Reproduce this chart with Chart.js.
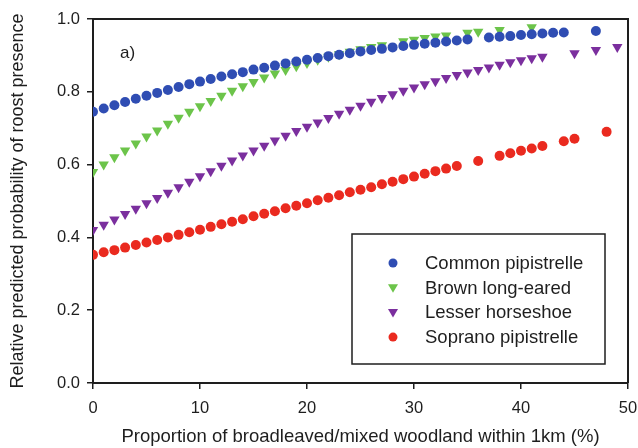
<!DOCTYPE html>
<html>
<head>
<meta charset="utf-8">
<script src="https://cdn.jsdelivr.net/npm/chart.js@4.4.1/dist/chart.umd.min.js"></script>
<style>
    html, body { margin: 0; padding: 0; background: #fff; }
    #wrap { width: 638px; height: 448px; }
</style>
</head>
<body>
<div id="wrap"><canvas id="roostChart" width="638" height="448"></canvas></div>
<script>
// woodland % (x) and predicted probability (y) per species
const commonX = [0,1,2,3,4,5,6,7,8,9,10,11,12,13,14,15,16,17,18,19,20,21,22,23,24,25,26,27,28,29,30,31,32,33,34,35,37,38,39,40,41,42,43,44,47];
const commonY = [0.745,0.754,0.763,0.772,0.781,0.789,0.797,0.805,0.813,0.821,0.828,0.835,0.842,0.848,0.854,0.861,0.866,0.872,0.878,0.883,0.888,0.893,0.898,0.902,0.906,0.911,0.915,0.918,0.922,0.926,0.929,0.932,0.935,0.938,0.941,0.944,0.949,0.951,0.953,0.956,0.958,0.960,0.962,0.963,0.967];

const brownX = [0,1,2,3,4,5,6,7,8,9,10,11,12,13,14,15,16,17,18,19,20,21,22,23,24,25,26,27,29,30,31,32,33,35,36,38,41];
const brownY = [0.580,0.600,0.620,0.639,0.658,0.677,0.694,0.712,0.729,0.745,0.760,0.775,0.789,0.803,0.815,0.827,0.839,0.850,0.860,0.870,0.879,0.888,0.896,0.903,0.910,0.917,0.923,0.928,0.939,0.943,0.948,0.952,0.955,0.962,0.965,0.970,0.977];

const lesserX = [0,1,2,3,4,5,6,7,8,9,10,11,12,13,14,15,16,17,18,19,20,21,22,23,24,25,26,27,28,29,30,31,32,33,34,35,36,37,38,39,40,41,42,45,47,49];
const lesserY = [0.420,0.435,0.449,0.464,0.479,0.494,0.508,0.523,0.538,0.553,0.568,0.582,0.597,0.611,0.625,0.639,0.652,0.666,0.679,0.692,0.704,0.716,0.728,0.740,0.751,0.762,0.773,0.783,0.793,0.803,0.812,0.821,0.829,0.838,0.846,0.853,0.860,0.867,0.874,0.881,0.887,0.892,0.896,0.906,0.915,0.923];

const sopranoX = [0,1,2,3,4,5,6,7,8,9,10,11,12,13,14,15,16,17,18,19,20,21,22,23,24,25,26,27,28,29,30,31,32,33,34,36,38,39,40,41,42,44,45,48];
const sopranoY = [0.352,0.359,0.365,0.372,0.379,0.386,0.393,0.400,0.407,0.414,0.421,0.429,0.436,0.443,0.450,0.458,0.465,0.472,0.480,0.487,0.494,0.502,0.509,0.516,0.524,0.531,0.538,0.546,0.553,0.560,0.567,0.575,0.582,0.589,0.596,0.610,0.624,0.631,0.638,0.644,0.651,0.664,0.671,0.690];

const species = ['Common pipistrelle', 'Brown long-eared', 'Lesser horseshoe', 'Soprano pipistrelle'];
const xTicks = [0, 10, 20, 30, 40, 50];
const yTicks = [0.0, 0.2, 0.4, 0.6, 0.8, 1.0];

const INK = '#1e1e1e';
const FONT = '"Liberation Sans", Arial, sans-serif';

const pts = (xs, ys) => xs.map((x, i) => ({ x: x, y: ys[i] }));

const series = [
    { label: species[0], data: pts(commonX, commonY), color: '#2f4db3', style: 'circle', rot: 0, r: 5 },
    { label: species[1], data: pts(brownX, brownY), color: '#6cc44a', style: 'triangle', rot: 180, r: 6 },
    { label: species[2], data: pts(lesserX, lesserY), color: '#7b2f9e', style: 'triangle', rot: 180, r: 6 },
    { label: species[3], data: pts(sopranoX, sopranoY), color: '#ea2a1f', style: 'circle', rot: 0, r: 5 }
];

// box round the plot, the "a)" panel tag and the framed legend
const decor = {
    id: 'decor',
    afterDraw(chart) {
        const ctx = chart.ctx;
        const a = chart.chartArea;
        ctx.save();
        ctx.strokeStyle = INK;
        ctx.lineWidth = 2;
        ctx.beginPath();
        ctx.moveTo(a.left, a.top);
        ctx.lineTo(a.right, a.top);
        ctx.lineTo(a.right, a.bottom);
        ctx.stroke();

        ctx.fillStyle = INK;
        ctx.font = '17px ' + FONT;
        ctx.textBaseline = 'middle';
        ctx.fillText('a)', 120, 53);

        // legend
        ctx.lineWidth = 1.5;
        ctx.strokeRect(352, 234, 253, 130);
        ctx.font = '18.5px ' + FONT;
        series.forEach((s, i) => {
            const y = 263 + i * 24.7;
            ctx.fillStyle = s.color;
            ctx.beginPath();
            if (s.style === 'circle') {
                ctx.arc(393, y, 4.5, 0, Math.PI * 2);
            } else {
                ctx.moveTo(388, y - 3.5);
                ctx.lineTo(398, y - 3.5);
                ctx.lineTo(393, y + 5);
                ctx.closePath();
            }
            ctx.fill();
            ctx.fillStyle = INK;
            ctx.fillText(s.label, 425, y + 1);
        });
        ctx.restore();
    }
};

new Chart(document.getElementById('roostChart'), {
    type: 'scatter',
    data: {
        datasets: series.map(s => ({
            label: s.label,
            data: s.data,
            pointStyle: s.style,
            rotation: s.rot,
            pointRadius: s.r,
            pointHoverRadius: s.r,
            backgroundColor: s.color,
            borderColor: s.color,
            borderWidth: 0
        }))
    },
    options: {
        responsive: false,
        animation: false,
        layout: { padding: { top: 19, right: 10, left: 0, bottom: 0 } },
        plugins: { legend: { display: false }, tooltip: { enabled: false } },
        scales: {
            x: {
                type: 'linear',
                min: 0, max: 50,
                afterBuildTicks: s => { s.ticks = xTicks.map(v => ({ value: v })); },
                afterFit: s => { s.height = 65; s.paddingLeft = 0; s.paddingRight = 0; },
                ticks: { color: INK, font: { family: FONT, size: 16.5 }, padding: 10, maxRotation: 0 },
                grid: { drawOnChartArea: false, tickLength: 6, color: INK, lineWidth: 1.5 },
                border: { color: INK, width: 2 },
                title: {
                    display: true,
                    text: 'Proportion of broadleaved/mixed woodland within 1km (%)',
                    color: INK,
                    font: { family: FONT, size: 18.5 },
                    padding: { top: 0, bottom: 0 }
                }
            },
            y: {
                type: 'linear',
                min: 0, max: 1,
                afterBuildTicks: s => { s.ticks = yTicks.map(v => ({ value: v })); },
                afterFit: s => { s.width = 93; s.paddingTop = 0; s.paddingBottom = 0; },
                ticks: { color: INK, font: { family: FONT, size: 16.5 }, padding: 7, callback: v => v.toFixed(1) },
                grid: { drawOnChartArea: false, tickLength: 6, color: INK, lineWidth: 1.5 },
                border: { color: INK, width: 2 },
                title: {
                    display: true,
                    text: 'Relative predicted probability of roost presence',
                    color: INK,
                    font: { family: FONT, size: 18 },
                    padding: { top: 7, bottom: 0 }
                }
            }
        }
    },
    plugins: [decor]
});
</script>
</body>
</html>
